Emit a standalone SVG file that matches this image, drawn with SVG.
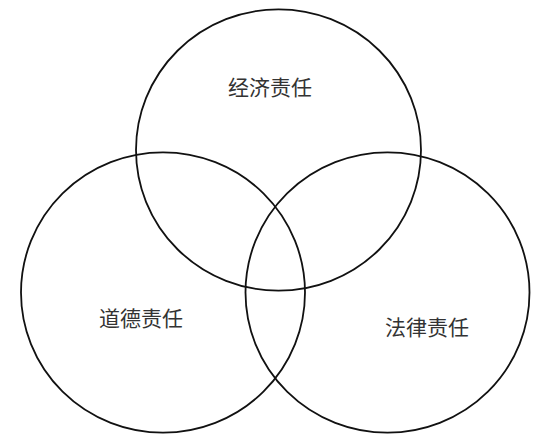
<svg xmlns="http://www.w3.org/2000/svg" width="557" height="445" viewBox="0 0 557 445">
  <style>
    .c { fill: none; stroke: #111; stroke-width: 1.8; }
    .t { font-family: "Noto Sans CJK SC", "Liberation Sans", sans-serif; font-size: 21px; fill: #333; text-anchor: middle; }
  </style>
  <rect width="557" height="445" fill="#fff"/>
  <g id="economic">
    <ellipse class="c" cx="278.5" cy="150" rx="142.5" ry="140.7"/>
    <text class="t" x="270" y="95">经济责任</text>
  </g>
  <g id="moral">
    <ellipse class="c" cx="163" cy="292.5" rx="142" ry="140.2"/>
    <text class="t" x="141" y="326">道德责任</text>
  </g>
  <g id="legal">
    <ellipse class="c" cx="387.5" cy="292.5" rx="142" ry="140.2"/>
    <text class="t" x="427" y="334.5">法律责任</text>
  </g>
  <g id="connectors"></g>
</svg>
